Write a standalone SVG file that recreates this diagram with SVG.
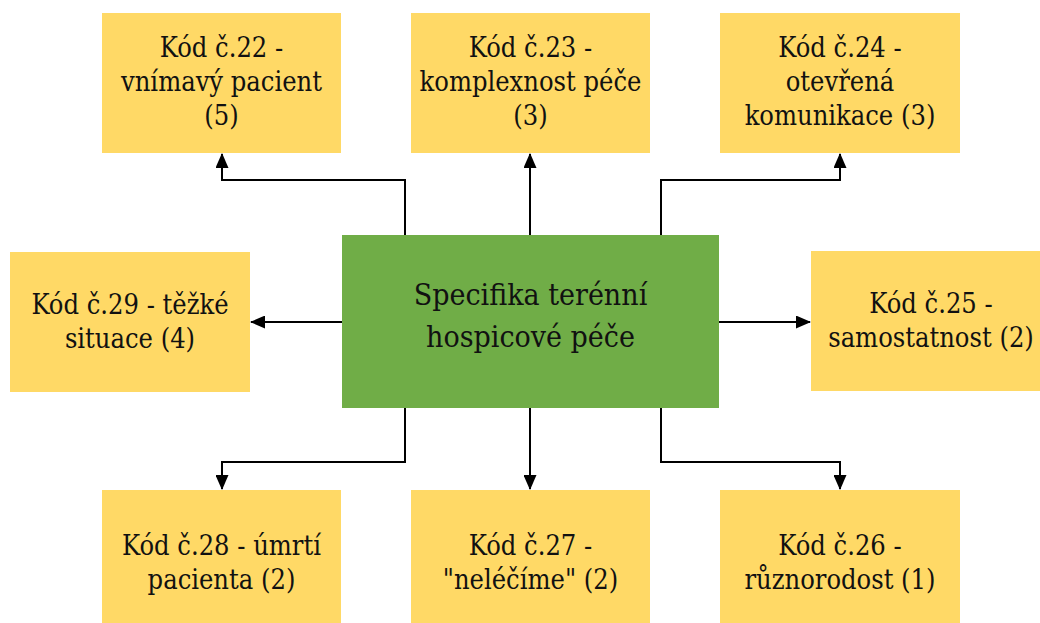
<svg xmlns="http://www.w3.org/2000/svg" width="1040" height="623" viewBox="0 0 1040 623">
  <style>
    .code { fill: #FFD966; }
    .hub { fill: #70AD47; }
    .lbl { fill: #111; text-anchor: middle; font-family: "DejaVu Serif Condensed", "DejaVu Serif", serif; font-stretch: condensed; }
    .t { font-size: 27px; }
    .th { font-size: 30px; }
    .wire { fill: none; stroke: #000; stroke-width: 2; marker-end: url(#tip); }
  </style>
  <defs>
    <marker id="tip" markerUnits="userSpaceOnUse" markerWidth="15" markerHeight="13" refX="14" refY="6.5" orient="auto">
      <path d="M0,0 L15,6.5 L0,13 z" fill="#000"/>
    </marker>
  </defs>
  <rect width="1040" height="623" fill="#fff"/>

  <g id="connectors">
    <path class="wire" d="M405,235 V180 H222 V154"/>
    <path class="wire" d="M530,235 V154"/>
    <path class="wire" d="M661,235 V180 H840 V154"/>
    <path class="wire" d="M342,322 H251"/>
    <path class="wire" d="M719,322 H810"/>
    <path class="wire" d="M405,408 V462 H222 V489"/>
    <path class="wire" d="M530,408 V489"/>
    <path class="wire" d="M661,408 V462 H840 V489"/>
  </g>

  <g id="hub">
    <rect class="hub" x="342" y="235" width="377" height="173"/>
    <text class="lbl th" x="530.5" y="305">Specifika terénní</text>
    <text class="lbl th" x="530.5" y="347">hospicové péče</text>
  </g>

  <g id="code22">
    <rect class="code" x="102" y="13" width="239" height="140"/>
    <text class="lbl t" x="221.5" y="57">Kód č.22 -</text>
    <text class="lbl t" x="221.5" y="91">vnímavý pacient</text>
    <text class="lbl t" x="221.5" y="125">(5)</text>
  </g>

  <g id="code23">
    <rect class="code" x="411" y="13" width="239" height="140"/>
    <text class="lbl t" x="530.5" y="57">Kód č.23 -</text>
    <text class="lbl t" x="530.5" y="91">komplexnost péče</text>
    <text class="lbl t" x="530.5" y="125">(3)</text>
  </g>

  <g id="code24">
    <rect class="code" x="720" y="13" width="240" height="140"/>
    <text class="lbl t" x="840" y="57">Kód č.24 -</text>
    <text class="lbl t" x="840" y="91">otevřená</text>
    <text class="lbl t" x="840" y="125">komunikace (3)</text>
  </g>

  <g id="code29">
    <rect class="code" x="10" y="252" width="240" height="140"/>
    <text class="lbl t" x="130" y="314">Kód č.29 - těžké</text>
    <text class="lbl t" x="130" y="348">situace (4)</text>
  </g>

  <g id="code25">
    <rect class="code" x="811" y="251" width="240" height="140"/>
    <text class="lbl t" x="931" y="313">Kód č.25 -</text>
    <text class="lbl t" x="931" y="347">samostatnost (2)</text>
  </g>

  <g id="code28">
    <rect class="code" x="102" y="490" width="239" height="140"/>
    <text class="lbl t" x="221.5" y="555">Kód č.28 - úmrtí</text>
    <text class="lbl t" x="221.5" y="589">pacienta (2)</text>
  </g>

  <g id="code27">
    <rect class="code" x="411" y="490" width="239" height="140"/>
    <text class="lbl t" x="530.5" y="555">Kód č.27 -</text>
    <text class="lbl t" x="530.5" y="589">"neléčíme" (2)</text>
  </g>

  <g id="code26">
    <rect class="code" x="720" y="490" width="240" height="140"/>
    <text class="lbl t" x="840" y="555">Kód č.26 -</text>
    <text class="lbl t" x="840" y="589">různorodost (1)</text>
  </g>
</svg>
